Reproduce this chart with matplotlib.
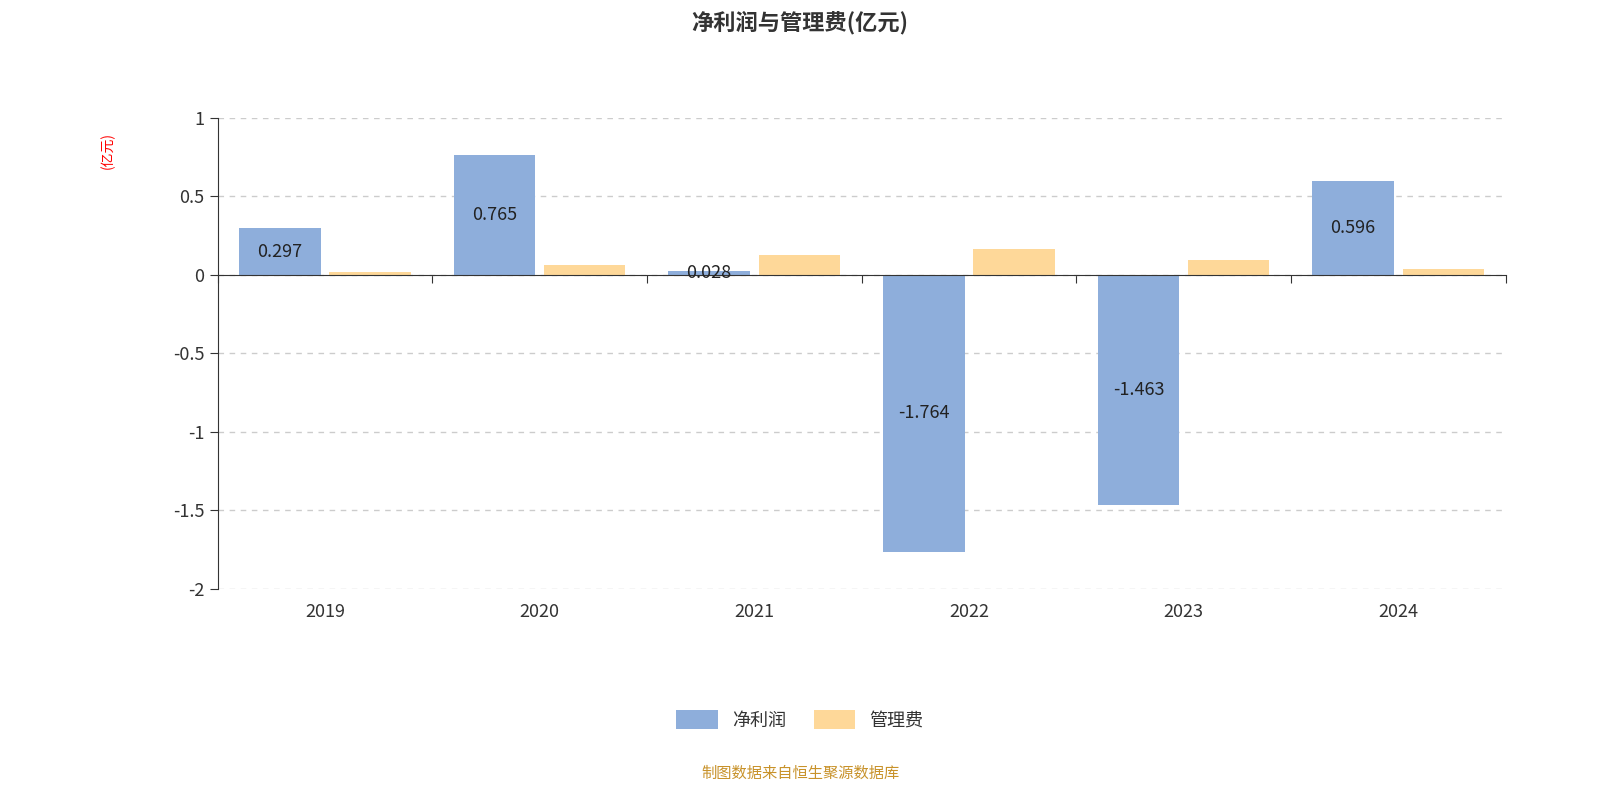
import matplotlib.pyplot as plt
import numpy as np
from matplotlib.patches import FancyBboxPatch

plt.rcParams['font.family'] = ['Noto Sans CJK SC', 'DejaVu Sans']

years = ['2019', '2020', '2021', '2022', '2023', '2024']
net_profit = [0.297, 0.765, 0.028, -1.764, -1.463, 0.596]
mgmt_fee = [0.02, 0.065, 0.125, 0.165, 0.098, 0.035]

blue = '#8eaedb'
orange = '#fed899'

fig = plt.figure(figsize=(16, 8), dpi=100)
ax = fig.add_axes([0.136, 0.264, 0.805, 0.5885])

x = np.arange(len(years))
w = 0.38
ax.bar(x - 0.21, net_profit, w, color=blue, label='净利润')
ax.bar(x + 0.21, mgmt_fee, w, color=orange, label='管理费')

for xi, v in zip(x, net_profit):
    ax.text(xi - 0.21, v / 2, f'{v:.3f}', ha='center', va='center', fontsize=13, color='#222222')

ax.set_xlim(-0.5, 5.5)
ax.set_ylim(-2, 1)
ax.set_yticks([1, 0.5, 0, -0.5, -1, -1.5, -2])
ax.set_yticklabels(['1', '0.5', '0', '-0.5', '-1', '-1.5', '-2'], fontsize=13, color='#333333')
ax.yaxis.grid(True, linestyle=(0, (4, 4)), color='#cccccc', linewidth=1)
ax.set_axisbelow(True)

for s in ['top', 'right']:
    ax.spines[s].set_visible(False)
ax.spines['bottom'].set_position(('data', 0))
ax.spines['left'].set_color('#333333')
ax.spines['bottom'].set_color('#333333')
ax.set_xticks(np.arange(-0.5, 6, 1))
ax.set_xticklabels([])
ax.tick_params(axis='x', length=6, color='#333333')
ax.tick_params(axis='y', length=6, color='#333333')
for xi, y in zip(x, years):
    ax.text(xi, -2.15, y, ha='center', va='center', fontsize=13, color='#333333')

ax.text(-0.085, 0.97, '(亿元)', transform=ax.transAxes, rotation=90, color='red',
        fontsize=10, ha='center', va='top')

fig.text(0.5, 0.972, '净利润与管理费(亿元)', ha='center', va='center', fontsize=16,
         fontweight='bold', color='#333333')

fig.legend(loc='center', bbox_to_anchor=(0.5, 0.1), ncol=2, frameon=False, fontsize=13,
           handlelength=2.3, handleheight=1.2, columnspacing=1.5, labelcolor='#333333')

fig.text(0.5, 0.034, '制图数据来自恒生聚源数据库', ha='center', va='center', fontsize=11, color='#c8922a')

fig.savefig('out.png', dpi=100)
